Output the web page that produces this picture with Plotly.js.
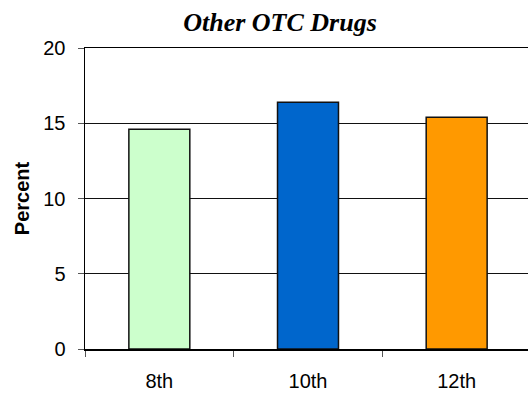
<!DOCTYPE html>
<html><head><meta charset="utf-8">
<script src="https://cdn.plot.ly/plotly-3.0.1.min.js"></script>
<style>html,body{margin:0;padding:0;overflow:hidden;background:#fff}#c{width:540px;height:396px}</style>
</head><body><div id="c"></div>
<script>
var categories = ["8th", "10th", "12th"];
var values = [14.6, 16.4, 15.4];
var colors = ["#CCFFCC", "#0066CC", "#FF9900"];
var yTicks = [0, 5, 10, 15, 20];

Plotly.newPlot("c", [{
  type: "bar", x: categories, y: values,
  marker: {color: colors, line: {color: "#111", width: 1.5}},
  width: 0.41, hoverinfo: "none"
}], {
  width: 540, height: 396,
  margin: {l: 85, r: 9, t: 48, b: 47},
  paper_bgcolor: "#fff", plot_bgcolor: "#fff",
  title: {text: "<b><i>Other OTC Drugs</i></b>", x: 280/540, xref: "container", xanchor: "center",
          y: 1 - 22/396, yref: "container", yanchor: "middle",
          font: {family: "Liberation Serif, Times New Roman, serif", size: 26, color: "#000"}},
  xaxis: {type: "category", tickson: "boundaries", ticks: "outside", ticklen: 6, tickcolor: "#555",
          ticklabelstandoff: 13,
          showline: true, linecolor: "#000", linewidth: 1.5, mirror: true, showgrid: false,
          tickfont: {family: "Liberation Sans, Arial, sans-serif", size: 20, color: "#000"}},
  yaxis: {range: [0, 20], tickvals: yTicks, ticks: "outside", ticklen: 6, tickcolor: "#555",
          ticklabelstandoff: 8,
          showline: true, linecolor: "#000", linewidth: 1.5, showgrid: true, gridcolor: "#111", gridwidth: 1.2,
          zeroline: false,
          tickfont: {family: "Liberation Sans, Arial, sans-serif", size: 20, color: "#000"},
          title: {text: "<b>Percent</b>", standoff: 8, font: {family: "Liberation Sans, Arial, sans-serif", size: 20, color: "#000"}}},
  showlegend: false, bargap: 0.59
}, {displayModeBar: false, staticPlot: true});
</script></body></html>
